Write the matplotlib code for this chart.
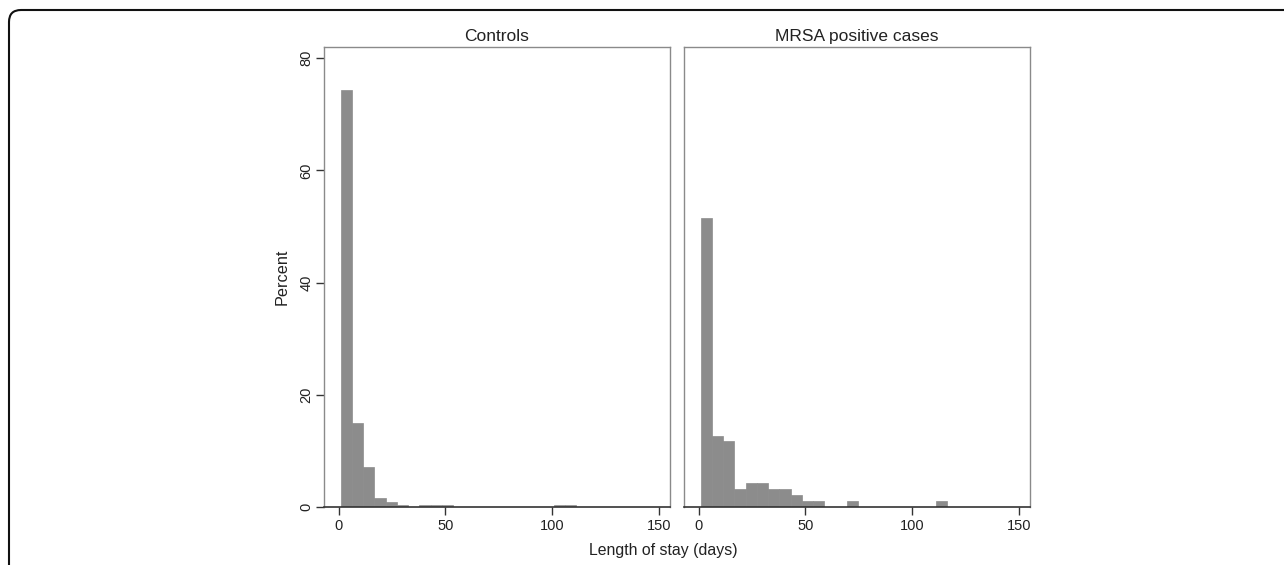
import numpy as np
import matplotlib
matplotlib.use('Agg')
import matplotlib.pyplot as plt
from matplotlib.patches import FancyBboxPatch
from matplotlib.transforms import IdentityTransform

plt.rcParams['font.family'] = ['Liberation Sans', 'DejaVu Sans']

# histogram data (percent per bin), bins start at 1 day
bin_start = 1.0
bin_width = 5.25
controls_pct = [74.3, 14.9, 7.1, 1.6, 0.9, 0.3, 0, 0.3, 0.3, 0.3,
                0, 0, 0, 0, 0, 0, 0, 0, 0, 0.3, 0.3]
mrsa_pct = [51.6, 12.7, 11.7, 3.2, 4.3, 4.3, 3.2, 3.2, 2.2, 1.1,
            1.1, 0, 0, 1.1, 0, 0, 0, 0, 0, 0, 0, 1.1]
panel_titles = ['Controls', 'MRSA positive cases']
x_ticks = [0, 50, 100, 150]
y_ticks = [0, 20, 40, 60, 80]

W, H = 1284, 565
fig = plt.figure(figsize=(W / 100, H / 100), dpi=100)

bar_color = '#8c8c8c'
frame_color = '#8a8a8a'
text_color = '#222222'

panels = [(324, controls_pct), (684, mrsa_pct)]
for i, (left_px, pct) in enumerate(panels):
    ax = fig.add_axes([left_px / W, (H - 507) / H, 346 / W, 460 / H])
    lefts = bin_start + bin_width * np.arange(len(pct))
    ax.bar(lefts, pct, width=bin_width, align='edge', color=bar_color,
           edgecolor=bar_color, linewidth=0.5)
    ax.set_xlim(-6.9, 155.2)
    ax.set_ylim(0, 82)
    for side in ['top', 'right', 'left']:
        ax.spines[side].set_color(frame_color)
        ax.spines[side].set_linewidth(1.0)
    ax.spines['bottom'].set_color('#333333')
    ax.spines['bottom'].set_linewidth(1.2)
    ax.set_xticks(x_ticks)
    ax.set_xticklabels([str(t) for t in x_ticks], fontsize=10.5, color=text_color)
    ax.tick_params(axis='x', length=6, width=1, color='#333333', pad=3)
    if i == 0:
        ax.set_yticks(y_ticks)
        ax.set_yticklabels([str(t) for t in y_ticks], fontsize=10.5,
                           color=text_color, rotation=90, va='center')
        ax.tick_params(axis='y', length=6, width=1, color='#333333', pad=1.5)
        ax.set_ylabel('Percent', fontsize=11.7, color=text_color, labelpad=7)
    else:
        ax.set_yticks([])
    ax.set_title(panel_titles[i], fontsize=12.5, color=text_color, pad=4)

fig.text(663 / W, 1 - 551 / H, 'Length of stay (days)', ha='center', va='center',
         fontsize=11.4, color=text_color)

# rounded outer border
border = FancyBboxPatch((9, -30), 1320, H - 10 + 30, boxstyle='round,pad=0,rounding_size=12',
                        transform=IdentityTransform(), fill=False, edgecolor='#111111',
                        linewidth=1.5)
fig.patches.append(border)

fig.savefig('out.png', dpi=100)
